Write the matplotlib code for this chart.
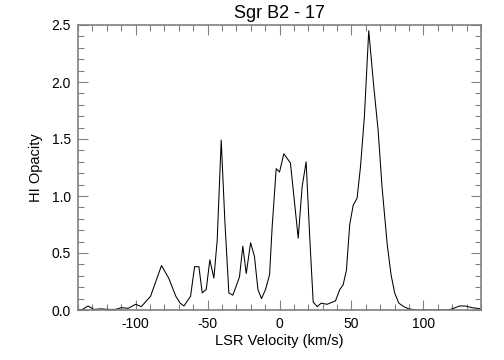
import matplotlib
matplotlib.use("Agg")
import matplotlib.pyplot as plt
from matplotlib.ticker import MultipleLocator

plt.rcParams['font.family'] = ['Liberation Sans', 'DejaVu Sans']
plt.rcParams['axes.unicode_minus'] = False

velocity = [-140, -137, -133, -129, -124, -119, -114, -110, -105, -100, -96, -89.6, -86.5,
            -82, -77, -72, -69, -66.4, -61.8, -59, -56, -53.7, -50.9, -48.4, -45.6,
            -43.3, -40.5, -38, -35.2, -32.4, -27.8, -25.5, -23.1, -20.1, -17.4, -15,
            -12.5, -9.7, -6.9, -5.1, -2.3, 0, 3, 7.6, 13, 15.7, 18.5, 21, 23.4, 26.2,
            29, 33, 38.9, 41.9, 44.2, 46.5, 48.8, 51.2, 53.9, 56.3, 59, 62, 65.5,
            68.5, 71.3, 74.8, 77.5, 80, 82.9, 86.3, 89.8, 95, 100, 105, 110, 115,
            118.7, 122, 125, 129, 134, 140]
opacity = [0.0, 0.005, 0.035, 0.005, 0.01, 0.005, 0.005, 0.02, 0.015, 0.05, 0.03, 0.12, 0.23,
           0.39, 0.28, 0.12, 0.06, 0.035, 0.12, 0.38, 0.38, 0.15, 0.18, 0.44, 0.28,
           0.61, 1.49, 0.79, 0.15, 0.13, 0.29, 0.56, 0.32, 0.59, 0.47, 0.18,
           0.10, 0.18, 0.31, 0.73, 1.24, 1.21, 1.37, 1.29, 0.63, 1.08, 1.30, 0.64, 0.07, 0.03,
           0.06, 0.05, 0.08, 0.18, 0.22, 0.35, 0.75, 0.92, 0.98, 1.26, 1.70, 2.45, 1.96,
           1.58, 1.07, 0.58, 0.31, 0.15, 0.06, 0.03, 0.01, 0.0, 0.0, 0.0, 0.0, 0.0,
           0.005, 0.02, 0.035, 0.035, 0.02, 0.01]

title = "Sgr B2 - 17"
xlabel = "LSR Velocity (km/s)"
ylabel = "HI Opacity"

fig = plt.figure(figsize=(5.04, 3.6), dpi=100)
ax = fig.add_axes([78/504, 50/360, 403/504, 285/360])
ax.plot(velocity, opacity, color='black', lw=0.75)
ax.set_xlim(-140, 140)
ax.set_ylim(0, 2.5)
ax.xaxis.set_major_locator(MultipleLocator(50))
ax.xaxis.set_minor_locator(MultipleLocator(10))
ax.yaxis.set_major_locator(MultipleLocator(0.5))
ax.yaxis.set_minor_locator(MultipleLocator(0.1))
ax.yaxis.set_major_formatter(plt.FormatStrFormatter('%.1f'))
ax.tick_params(which='both', direction='in', top=True, right=True, color='#808080',
               labelsize=10, labelcolor='black', pad=5)
ax.tick_params(which='major', length=7, width=0.8)
ax.tick_params(which='minor', length=4, width=0.8)
for s in ax.spines.values():
    s.set_color('#808080')
    s.set_linewidth(1.2)
ax.set_title(title, fontsize=13, pad=5)
ax.set_xlabel(xlabel, fontsize=10.5, labelpad=2)
ax.set_ylabel(ylabel, fontsize=10.5, labelpad=6)
fig.savefig("out.png", dpi=100)
